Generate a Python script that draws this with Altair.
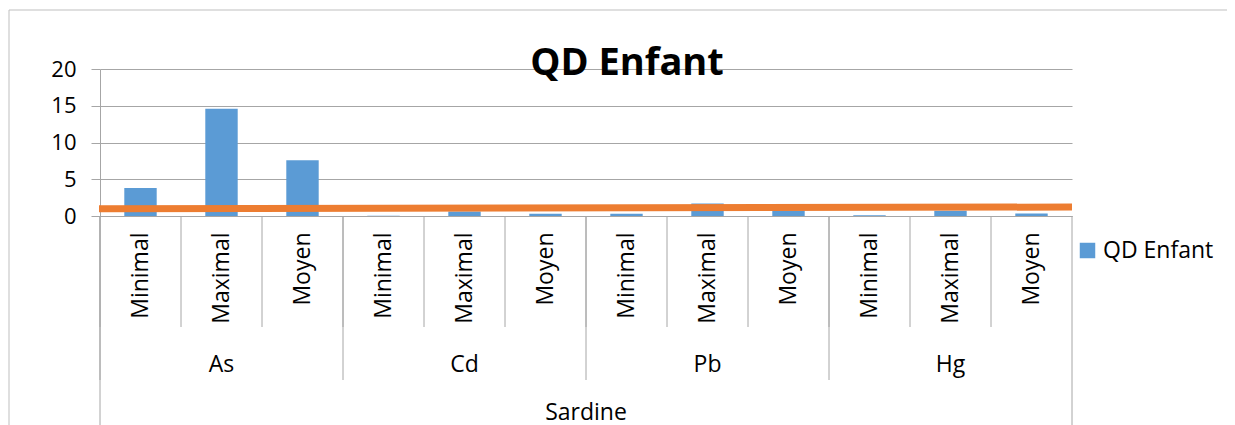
import altair as alt
import pandas as pd

# ---- data ----
metals = ["As", "As", "As", "Cd", "Cd", "Cd", "Pb", "Pb", "Pb", "Hg", "Hg", "Hg"]
levels = ["Minimal", "Maximal", "Moyen"] * 4
values = [3.8, 14.6, 7.6, 0.05, 0.6, 0.32, 0.3, 1.7, 0.7, 0.1, 0.7, 0.35]
y_ticks = [0, 5, 10, 15, 20]
group_label = "Sardine"
series_name = "QD Enfant"
ref_line = [1.0, 1.22]   # orange line value at left / right edge

keys = [f"{m}|{l}" for m, l in zip(metals, levels)]
df = pd.DataFrame({"key": keys, "metal": metals, "level": levels,
                   "value": values, "series": [series_name] * len(keys)})

W, H = 972, 147
FONT = "Open Sans"
FS = 23
GRID = "#A6A6A6"

x_scale = alt.Scale(domain=keys, paddingInner=0, paddingOuter=0)
y_scale = alt.Scale(domain=[0, 20])

label_expr = "split(datum.value, '|')[1]"
x_axis = alt.Axis(title=None, labelExpr=label_expr, labelAngle=270,
                  labelFont=FONT, labelFontSize=FS, labelColor="#000000",
                  labelPadding=16, ticks=False, domainColor=GRID, grid=False,
                  labelBaseline="middle", labelOverlap=False)
y_axis = alt.Axis(title=None, values=y_ticks, tickSize=9, grid=True,
                  tickColor=GRID, gridColor=GRID, domainColor=GRID,
                  labelFont=FONT, labelFontSize=22, labelColor="#000000",
                  labelPadding=15, labelOverlap=False)


def X(**kw):
    return alt.X("key:N", scale=x_scale, sort=keys, axis=x_axis, **kw)


bars = alt.Chart(df).mark_bar(width=alt.RelativeBandSize(0.4), color="#5B9BD5").encode(
    x=X(),
    y=alt.Y("value:Q", scale=y_scale, axis=y_axis),
    color=alt.Color("series:N",
                    scale=alt.Scale(domain=[series_name], range=["#5B9BD5"]),
                    legend=alt.Legend(title=None, orient="none", legendX=976, legendY=170,
                                      symbolType="square", symbolSize=240,
                                      symbolStrokeWidth=0, labelFont=FONT,
                                      labelFontSize=FS, labelColor="#000000",
                                      labelOffset=4, padding=0)),
)

# level-1 dividers (between every category)
div1 = alt.Chart(df).mark_rule(color=GRID, strokeWidth=1).encode(
    x=X(bandPosition=0), y=alt.value(H), y2=alt.value(H + 111),
)

first_keys = [keys[i] for i in range(0, len(keys), 3)]
div2 = alt.Chart(pd.DataFrame({"key": first_keys})).mark_rule(color=GRID).encode(
    x=X(bandPosition=0), y=alt.value(H), y2=alt.value(H + 164),
)

edge_left = alt.Chart(pd.DataFrame({"key": [keys[0]]})).mark_rule(color=GRID).encode(
    x=X(bandPosition=0), y=alt.value(H), y2=alt.value(H + 260),
)
edge_right = alt.Chart(pd.DataFrame({"key": [keys[-1]]})).mark_rule(color=GRID).encode(
    x=X(bandPosition=1), y=alt.value(H), y2=alt.value(H + 260),
)

# metal group labels, centred on the middle category of each group
mid_keys = [keys[i] for i in range(1, len(keys), 3)]
grp = alt.Chart(pd.DataFrame({"key": mid_keys,
                              "label": [metals[i] for i in range(1, len(keys), 3)]})).mark_text(
    font=FONT, fontSize=FS, color="#000000", baseline="alphabetic", align="center"
).encode(x=X(), y=alt.value(H + 156), text="label:N")

sardine = alt.Chart(pd.DataFrame({"label": [group_label]})).mark_text(
    font=FONT, fontSize=FS, color="#000000", baseline="alphabetic", align="center"
).encode(x=alt.value(W / 2), y=alt.value(H + 204), text="label:N")

# orange reference line across the plot
line_df = pd.DataFrame({"y1": [ref_line[0]], "y2": [ref_line[1]]})
orange = alt.Chart(line_df).mark_rule(color="#ED7D31", strokeWidth=7).encode(
    x=alt.value(-1), x2=alt.value(W),
    y=alt.Y("y1:Q", scale=y_scale, axis=y_axis), y2="y2:Q",
)

title = alt.Chart(pd.DataFrame({"t": [series_name]})).mark_text(
    font=FONT, fontSize=38, fontWeight="bold", color="#000000",
    baseline="alphabetic", align="center"
).encode(x=alt.value(527), y=alt.value(6), text="t:N")

# outer chart border (top and left)
border_top = alt.Chart(pd.DataFrame({"a": [0]})).mark_rule(color="#BFBFBF").encode(
    x=alt.value(-91), x2=alt.value(1400), y=alt.value(-59))
border_left = alt.Chart(pd.DataFrame({"a": [0]})).mark_rule(color="#BFBFBF").encode(
    x=alt.value(-91), y=alt.value(-59), y2=alt.value(500))

chart = alt.layer(
    border_top, border_left, bars, div1, div2, edge_left, edge_right,
    grp, sardine, orange, title
).properties(
    width=W, height=H,
    background="#FFFFFF",
    autosize=alt.AutoSizeParams(type="none"),
    padding={"left": 92, "top": 61, "right": 155, "bottom": 209},
).configure_view(stroke=None)

chart.save("out.html", embed_options={"renderer": "svg", "actions": False})
